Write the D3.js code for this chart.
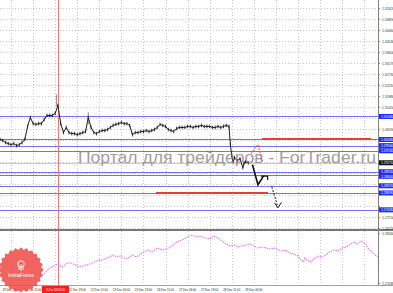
<!DOCTYPE html>
<html>
<head>
<meta charset="utf-8">
<script src="https://cdn.jsdelivr.net/npm/d3@7"></script>
<style>
  body { margin: 0; background: #fff; }
  svg { display: block; font-family: "Liberation Sans", Arial, sans-serif; }
</style>
</head>
<body>
<div class="chart"></div>
<script>
// price axis ticks (main pane)
const priceTicks = [1.35320, 1.34890, 1.34460, 1.34030, 1.33600, 1.33170, 1.32740, 1.32310,
  1.31880, 1.31450, 1.31020, 1.30590, 1.30160, 1.29730, 1.29300, 1.28870, 1.28440,
  1.28010, 1.27580, 1.27150, 1.26720]
// lower pane ticks
const lowTicks = [1.28560, 1.27088]

// time axis (bar index -> label); the 21 Dec 03:00 tick sits under the cursor box
const timeTickBars = [8, 24, 56, 72, 88, 104, 120, 136, 152, 168, 184]
const timeTickLabels = ["19 Dec 19:00", "20 Dec 11:00", "21 Dec 19:00",
  "22 Dec 11:00", "23 Dec 03:00", "23 Dec 19:00", "26 Dec 11:00", "27 Dec 03:00",
  "27 Dec 19:00", "28 Dec 11:00", "29 Dec 03:00"]
const gridBars = [8, 24, 40, 56, 72, 88, 104, 120, 136, 152, 168, 184, 200, 216, 232, 248, 264]
const cursorBar = 42
const cursorLabel = "21 Dec 2018 02:00"

// main series [bar, price]
const priceSeries = [[0,1.3018],[2,1.3014],[4,1.3006],[6,1.3002],[8,1.2998],[10,1.3002],[12,1.2994],
  [14,1.2998],[16,1.3006],[18,1.3018],[20,1.3069],[22,1.3104],[24,1.3080],[26,1.3077],[28,1.3080],
  [30,1.3080],[32,1.3096],[34,1.3112],[36,1.3112],[38,1.3112],[40,1.3120],[42,1.3151],[44,1.3080],
  [46,1.3045],[48,1.3065],[50,1.3045],[52,1.3041],[54,1.3041],[56,1.3037],[58,1.3041],[60,1.3045],
  [62,1.3049],[64,1.3104],[66,1.3065],[68,1.3045],[70,1.3041],[72,1.3049],[74,1.3053],[76,1.3053],
  [78,1.3057],[80,1.3065],[82,1.3073],[84,1.3077],[86,1.3080],[88,1.3084],[90,1.3080],[92,1.3080],
  [94,1.3073],[96,1.3037],[98,1.3045],[100,1.3045],[102,1.3049],[104,1.3049],[106,1.3053],[108,1.3049],
  [110,1.3053],[112,1.3057],[114,1.3065],[116,1.3077],[118,1.3073],[120,1.3069],[122,1.3057],[124,1.3053],
  [126,1.3049],[128,1.3061],[130,1.3065],[132,1.3065],[134,1.3065],[136,1.3069],[138,1.3069],[140,1.3065],
  [142,1.3069],[144,1.3069],[146,1.3073],[148,1.3069],[150,1.3069],[152,1.3069],[154,1.3065],[156,1.3065],
  [158,1.3069],[160,1.3065],[162,1.3069],[164,1.3073],[166,1.3069],[167,1.2998],[168,1.2955],[169,1.2931],
  [170,1.2947],[172,1.2935],[174,1.2943],[176,1.2908],[177,1.2927],[178,1.2931],[180,1.2927]]
const priceSpikes = [[41, 1.3194], [64, 1.3124]]
const currentPrice = 1.2927

// horizontal levels
const levelPrices = [1.3108, 1.3018, 1.2994, 1.2974, 1.2892, 1.2880, 1.2837, 1.2809, 1.2743]
const resistanceLevel = { price: 1.3018, from: 190, to: 269 }
const supportLevel = { price: 1.2809, from: 113, to: 194 }

// hand drawn forecast
const forecastRed = [[182,1.2963],[187,1.2998],[190,1.2935]]
const forecastMain = [[183,1.2919],[187,1.2841],[191,1.2875]]
const forecastMainHead = [[189,1.2875],[194,1.2875],[194,1.2860]]
const forecastDash = [[197,1.2833],[201,1.2762]]
const forecastDashHead = [[199,1.2770],[201.5,1.2751],[204,1.2772]]

// lower pane series [bar, value]
const lowSeries = [[29,1.27266],[32,1.27355],[36,1.27531],[39,1.27590],[42,1.27649],[45,1.27560],
  [49,1.27678],[52,1.27678],[57,1.27560],[60,1.27590],[63,1.27619],[67,1.27678],[70,1.27737],
  [74,1.27766],[78,1.27825],[82,1.27913],[85,1.27854],[87,1.27884],[90,1.27825],[92,1.27796],
  [96,1.27913],[99,1.27854],[103,1.27972],[107,1.28060],[110,1.28001],[114,1.28119],[118,1.28060],
  [122,1.28119],[125,1.28178],[128,1.28295],[132,1.28354],[136,1.28442],[139,1.28501],[143,1.28442],
  [145,1.28472],[149,1.28413],[152,1.28384],[155,1.28472],[158,1.28413],[161,1.28325],[164,1.28237],
  [167,1.28178],[170,1.28207],[173,1.28148],[175,1.28178],[178,1.28207],[181,1.28237],[184,1.28178],
  [187,1.28119],[190,1.28148],[193,1.28119],[196,1.28090],[199,1.28119],[202,1.28060],[204,1.28031],
  [207,1.28060],[210,1.27972],[213,1.27943],[216,1.27884],[218,1.27766],[220,1.27707],[221,1.27825],
  [223,1.27766],[225,1.27707],[228,1.27825],[231,1.27884],[233,1.27854],[236,1.27913],[239,1.28001],
  [242,1.28060],[245,1.28031],[248,1.28119],[251,1.28148],[254,1.28237],[257,1.28295],[259,1.28237],
  [262,1.28325],[265,1.28237],[267,1.28090],[270,1.28001],[272,1.27913],[274,1.27854]]

const drawChart = () => {
  const colors = {
    grid: "#c4c4c4",
    frame: "#808080",
    bars: "#1e1e1e",
    level: "#7070f0",
    levelBox: "#1c2cff",
    red: "#e83c3c",
    cursor: "#f07878",
    pink: "#e070e8",
    watermark: "#8f8585"
  }

  const dims = {
    width: 393,
    height: 293,
    paneRight: 378,
    mainBottom: 230,
    lowTop: 232,
    lowBottom: 285
  }

  const xScale = d3.scaleLinear()
    .domain([0, 274])
    .range([0, dims.paneRight])

  const yScale = d3.scaleLinear()
    .domain([1.2672, 1.3532])
    .range([228, 8])

  const yLowScale = d3.scaleLinear()
    .domain([1.2709, 1.2856])
    .range([283, 233])

  const lineGenerator = d3.line()
    .x(d => xScale(d[0]))
    .y(d => yScale(d[1]))

  const fmt = d3.format(".5f")

  const svg = d3.select(".chart")
    .append("svg")
      .attr("width", dims.width)
      .attr("height", dims.height)

  svg.append("rect")
      .attr("width", dims.width)
      .attr("height", dims.height)
      .attr("fill", "#fff")

  svg.append("clipPath")
      .attr("id", "main-clip")
    .append("rect")
      .attr("width", dims.paneRight)
      .attr("height", dims.mainBottom)

  // grid
  const grid = svg.append("g")
      .attr("stroke", colors.grid)
      .attr("stroke-dasharray", "1,2")
      .attr("shape-rendering", "crispEdges")

  grid.selectAll(".hgrid")
    .data(priceTicks)
    .join("line")
      .attr("x1", 0)
      .attr("x2", dims.paneRight)
      .attr("y1", d => Math.round(yScale(d)) + 0.5)
      .attr("y2", d => Math.round(yScale(d)) + 0.5)

  grid.selectAll(".vgrid")
    .data(gridBars)
    .join("line")
      .attr("x1", d => Math.round(xScale(d)) + 0.5)
      .attr("x2", d => Math.round(xScale(d)) + 0.5)
      .attr("y1", 0)
      .attr("y2", dims.lowBottom)

  // levels
  const levels = svg.append("g")
      .attr("shape-rendering", "crispEdges")

  levels.append("line")
      .attr("x1", 0)
      .attr("x2", dims.paneRight)
      .attr("y1", Math.round(yScale(currentPrice)) + 0.5)
      .attr("y2", Math.round(yScale(currentPrice)) + 0.5)
      .attr("stroke", "#c8c8c8")

  levels.selectAll(".level")
    .data(levelPrices)
    .join("line")
      .attr("x1", 0)
      .attr("x2", dims.paneRight)
      .attr("y1", d => Math.round(yScale(d)) + 0.5)
      .attr("y2", d => Math.round(yScale(d)) + 0.5)
      .attr("stroke", colors.level)

  levels.selectAll(".red-level")
    .data([resistanceLevel, supportLevel])
    .join("line")
      .attr("x1", d => xScale(d.from))
      .attr("x2", d => xScale(d.to))
      .attr("y1", d => Math.round(yScale(d.price)))
      .attr("y2", d => Math.round(yScale(d.price)))
      .attr("stroke", colors.red)
      .attr("stroke-width", 2)

  // cursor line
  svg.append("line")
      .attr("x1", Math.round(xScale(cursorBar)) + 0.5)
      .attr("x2", Math.round(xScale(cursorBar)) + 0.5)
      .attr("y1", 0)
      .attr("y2", dims.lowBottom)
      .attr("stroke", colors.cursor)

  // price bars
  const price = svg.append("g")
      .attr("clip-path", "url(#main-clip)")

  price.selectAll(".spike")
    .data(priceSpikes)
    .join("line")
      .attr("x1", d => xScale(d[0]))
      .attr("x2", d => xScale(d[0]))
      .attr("y1", d => yScale(d[1]))
      .attr("y2", d => yScale(d[1]) + 12)
      .attr("stroke", "#9a9a9a")
      .attr("stroke-width", 1.2)

  price.append("path")
      .attr("d", lineGenerator(priceSeries))
      .attr("fill", "none")
      .attr("stroke", colors.bars)
      .attr("stroke-width", 1)

  price.selectAll(".bar")
    .data(priceSeries)
    .join("line")
      .attr("x1", d => xScale(d[0]))
      .attr("x2", d => xScale(d[0]))
      .attr("y1", d => yScale(d[1]) - 1.8)
      .attr("y2", d => yScale(d[1]) + 1.8)
      .attr("stroke", colors.bars)
      .attr("stroke-width", 0.9)

  // forecast drawing
  const forecast = svg.append("g")
      .attr("fill", "none")

  forecast.append("path")
      .attr("d", lineGenerator(forecastRed))
      .attr("stroke", colors.red)
      .attr("stroke-dasharray", "2,1")

  forecast.append("path")
      .attr("d", lineGenerator(forecastMain))
      .attr("stroke", "#111")
      .attr("stroke-width", 1.6)

  forecast.append("path")
      .attr("d", lineGenerator(forecastMainHead))
      .attr("stroke", "#111")
      .attr("stroke-width", 1.2)

  forecast.append("path")
      .attr("d", lineGenerator(forecastDash))
      .attr("stroke", "#111")
      .attr("stroke-dasharray", "2,1.5")

  forecast.append("path")
      .attr("d", lineGenerator(forecastDashHead))
      .attr("stroke", "#111")

  // watermark
  svg.append("text")
      .attr("x", 78)
      .attr("y", 163)
      .attr("textLength", 298)
      .attr("lengthAdjust", "spacingAndGlyphs")
      .style("font-size", "17px")
      .attr("fill", colors.watermark)
      .attr("opacity", 0.8)
      .text("Портал для трейдеров - ForTrader.ru")

  // lower pane
  svg.append("path")
      .attr("d", d3.line()
        .x(d => xScale(d[0]))
        .y(d => yLowScale(d[1]))(lowSeries))
      .attr("fill", "none")
      .attr("stroke", colors.pink)
      .attr("stroke-width", 1.1)
      .attr("stroke-dasharray", "1.5,1")

  // frames
  const frames = svg.append("g")
      .attr("shape-rendering", "crispEdges")

  frames.append("rect")
      .attr("x", 0)
      .attr("y", dims.mainBottom - 1)
      .attr("width", dims.width)
      .attr("height", 2)
      .attr("fill", "#777")

  frames.append("line")
      .attr("x1", 0)
      .attr("x2", dims.width)
      .attr("y1", dims.lowBottom + 0.5)
      .attr("y2", dims.lowBottom + 0.5)
      .attr("stroke", "#a0a0a0")

  frames.append("line")
      .attr("x1", dims.paneRight + 0.5)
      .attr("x2", dims.paneRight + 0.5)
      .attr("y1", 0)
      .attr("y2", dims.lowBottom)
      .attr("stroke", colors.frame)

  // level boxes on the price scale, nudged apart so their texts do not collide
  const boxData = levelPrices.map(p => ({ price: p, fill: colors.levelBox }))
    .concat([{ price: currentPrice, fill: "#111" }])
    .sort((a, b) => yScale(a.price) - yScale(b.price))
  boxData.forEach((d, i) => {
    d.y = yScale(d.price)
    if (i > 0) d.y = Math.max(d.y, boxData[i - 1].y + 4.6)
  })

  // tick labels covered by a box are not shown
  const covered = t => boxData.some(b => Math.abs(b.y - yScale(t)) < 5)

  const yAxisGenerator = d3.axisRight()
    .scale(yScale)
    .tickValues(priceTicks)
    .tickSize(2)
    .tickPadding(2)
    .tickFormat(d => covered(d) ? "" : fmt(d))

  svg.append("g")
      .attr("class", "y-axis")
      .attr("transform", `translate(${dims.paneRight}, 0)`)
      .call(yAxisGenerator)
      .call(g => g.select(".domain").remove())
      .call(g => g.selectAll(".tick line").attr("stroke", colors.frame))
      .call(g => g.selectAll(".tick text")
          .attr("fill", "#333")
          .style("font-size", "3.4px")
          .style("font-family", "'Liberation Sans', Arial, sans-serif"))

  const yLowAxisGenerator = d3.axisRight()
    .scale(yLowScale)
    .tickValues(lowTicks)
    .tickSize(2)
    .tickPadding(2)
    .tickFormat(fmt)

  svg.append("g")
      .attr("class", "y-low-axis")
      .attr("transform", `translate(${dims.paneRight}, 0)`)
      .call(yLowAxisGenerator)
      .call(g => g.select(".domain").remove())
      .call(g => g.selectAll(".tick line").attr("stroke", colors.frame))
      .call(g => g.selectAll(".tick text")
          .attr("fill", "#333")
          .style("font-size", "3.4px")
          .style("font-family", "'Liberation Sans', Arial, sans-serif"))

  const boxes = svg.append("g")

  boxes.selectAll("rect")
    .data(boxData)
    .join("rect")
      .attr("x", dims.paneRight + 1)
      .attr("y", d => d.y - 2.5)
      .attr("width", dims.width - dims.paneRight - 1)
      .attr("height", 5)
      .attr("fill", d => d.fill)

  boxes.selectAll("text")
    .data(boxData)
    .join("text")
      .attr("x", dims.paneRight + 3)
      .attr("y", d => d.y + 1.2)
      .attr("fill", "#fff")
      .style("font-size", "3.4px")
      .text(d => fmt(d.price))

  // time axis
  const timeAxis = svg.append("g")
      .attr("class", "x-axis")

  timeAxis.selectAll("text")
    .data(timeTickBars)
    .join("text")
      .attr("x", d => xScale(d))
      .attr("y", 291)
      .attr("text-anchor", "middle")
      .attr("fill", "#222")
      .style("font-size", "2.9px")
      .text((d, i) => timeTickLabels[i])

  timeAxis.append("rect")
      .attr("x", xScale(cursorBar) - 16)
      .attr("y", 286)
      .attr("width", 27)
      .attr("height", 7)
      .attr("fill", "#ff1a1a")

  timeAxis.append("text")
      .attr("x", xScale(cursorBar) - 2.5)
      .attr("y", 291)
      .attr("text-anchor", "middle")
      .attr("textLength", 19)
      .attr("lengthAdjust", "spacingAndGlyphs")
      .attr("fill", "#fff")
      .style("font-size", "3px")
      .text(cursorLabel)

  // InstaForex badge
  const badge = svg.append("g")
      .attr("transform", "translate(21, 270)")

  const scallops = d3.range(0, 48).map(i => [i / 48 * 2 * Math.PI, i % 2 ? 20.5 : 22.5])

  badge.append("path")
      .attr("d", d3.lineRadial().curve(d3.curveCardinalClosed)(scallops))
      .attr("fill", "#ef4f4a")
      .attr("opacity", 0.88)

  badge.append("circle")
      .attr("cy", -6)
      .attr("r", 3.2)
      .attr("fill", "none")
      .attr("stroke", "#fff")
      .attr("stroke-width", 1)

  badge.append("path")
      .attr("d", "M0,-6V1M-2,-4V0M2,-4V0")
      .attr("stroke", "#fff")
      .attr("stroke-width", 0.9)

  badge.append("text")
      .attr("y", 7)
      .attr("text-anchor", "middle")
      .attr("fill", "#fff")
      .style("font-size", "5.5px")
      .text("InstaForex")
}
drawChart()
</script>
</body>
</html>
